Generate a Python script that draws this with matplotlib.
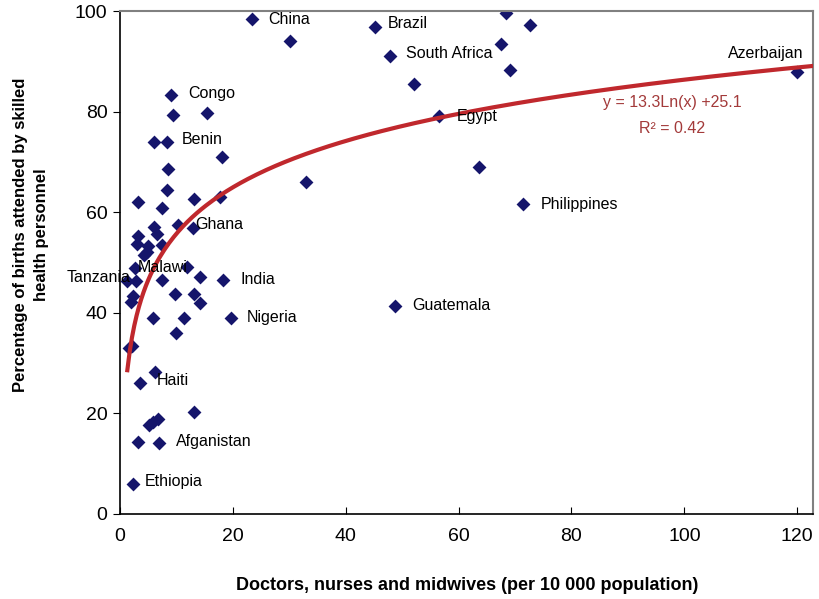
# Skilled birth attendance vs. health workforce density, with log trendline

import numpy as np
import matplotlib.pyplot as plt

plt.rcParams['font.family'] = ['Liberation Sans', 'DejaVu Sans']

# health workers per 10 000 population
workers = [23.4, 30.1, 45.2, 47.9, 52.1, 68.4, 72.7, 67.6, 69.1, 56.6,
           120.0, 71.5, 63.7, 48.8, 33.0, 18.3, 19.6, 9.0, 9.4, 15.4,
           6.0, 8.3, 18.1, 8.5, 8.3, 3.2, 13.1, 17.8, 7.5, 10.3,
           13.0, 6.0, 6.6, 3.2, 3.0, 4.9, 7.5, 4.8, 4.2, 2.6,
           11.8, 1.2, 2.8, 7.5, 14.1, 2.3, 1.9, 9.8, 13.1, 14.1,
           5.9, 11.3, 9.9, 2.1, 1.6, 6.2, 3.5, 13.1, 5.1, 5.9,
           6.7, 3.2, 6.9, 2.3]
# births attended by skilled personnel (%)
births = [98.4, 94.0, 96.8, 91.1, 85.5, 99.6, 97.2, 93.4, 88.3, 79.1,
          87.9, 61.6, 69.0, 41.4, 66.0, 46.6, 39.0, 83.3, 79.3, 79.7,
          74.0, 74.0, 71.0, 68.6, 64.5, 62.0, 62.7, 63.0, 60.8, 57.4,
          56.9, 57.0, 55.7, 55.3, 53.7, 53.3, 53.5, 52.1, 51.5, 49.0,
          49.2, 46.4, 46.3, 46.6, 47.1, 43.3, 42.2, 43.7, 43.7, 41.9,
          39.0, 39.0, 35.9, 33.4, 33.0, 28.2, 26.0, 20.3, 17.7, 18.3,
          18.9, 14.3, 14.1, 6.0]
names = ['China', '', 'Brazil', 'South Africa', '', '', '', '', '', 'Egypt',
         'Azerbaijan', 'Philippines', '', 'Guatemala', '', 'India', 'Nigeria', 'Congo', '', '',
         '', 'Benin', '', '', '', '', '', '', '', '',
         'Ghana', '', '', '', '', '', '', '', '', 'Malawi',
         '', 'Tanzania', '', '', '', '', '', '', '', '',
         '', '', '', '', '', 'Haiti', '', '', '', '',
         '', '', 'Afganistan', 'Ethiopia']

# trendline coefficients as printed on the chart
fit_a, fit_b = 13.3, 25.1

# label placement in pixels relative to the marker
offsets = {
    'China': (16, 0), 'Brazil': (13, 4), 'South Africa': (16, 2),
    'Egypt': (17, 0), 'Philippines': (17, 0), 'Guatemala': (17, 0),
    'India': (17, 0), 'Nigeria': (16, 0), 'Congo': (17, 2),
    'Benin': (15, 2), 'Ghana': (2, 3), 'Haiti': (2, -8),
    'Afganistan': (17, 2), 'Ethiopia': (12, 2), 'Malawi': (3, 0),
    'Tanzania': (4, 3), 'Azerbaijan': (6, 18),
}
right_aligned = ['Tanzania', 'Azerbaijan']

fig = plt.figure(figsize=(8.2, 5.99), dpi=100)
ax = fig.add_axes([120/820, 1-514/599, (813-120)/820, (514-11)/599])

x = np.linspace(1.3, 124, 300)
ax.plot(x, fit_a*np.log(x) + fit_b, color='#C0282D', lw=3, zorder=3)
ax.scatter(workers, births, marker='D', s=50, color='#15156B', zorder=2,
           linewidths=0)

for xi, yi, name in zip(workers, births, names):
    if not name:
        continue
    dx, dy = offsets[name]
    ax.annotate(name, (xi, yi), xytext=(dx, dy), textcoords='offset pixels',
                ha='right' if name in right_aligned else 'left', va='center',
                fontsize=11.5, color='black', zorder=4, annotation_clip=False)

ax.text(97.9, 81.9, f'y = {fit_a}Ln(x) +{fit_b}', ha='center', va='center',
        fontsize=11.5, color='#A33A3A')
ax.text(97.9, 76.7, 'R² = 0.42', ha='center', va='center',
        fontsize=11.5, color='#A33A3A')

ax.set_xlim(0, 122.8)
ax.set_ylim(0, 100)
ax.set_xticks(range(0, 121, 20))
ax.set_yticks(range(0, 101, 20))
ax.tick_params(axis='y', direction='out', length=5, labelsize=14, pad=4)
ax.tick_params(axis='x', direction='in', length=5, labelsize=14, pad=10)
for side in ['top', 'right']:
    ax.spines[side].set_color('#808080')
    ax.spines[side].set_linewidth(1.5)
for side in ['left', 'bottom']:
    ax.spines[side].set_linewidth(1.2)

fig.text(467/820, 1-585/599,
         'Doctors, nurses and midwives (per 10 000 population)',
         ha='center', va='center', fontsize=13, fontweight='bold')
fig.text(31/820, 1-235/599,
         'Percentage of births attended by skilled\nhealth personnel',
         ha='center', va='center', rotation=90, fontsize=12,
         fontweight='bold', multialignment='center', linespacing=1.45)

fig.savefig('out.png', dpi=100)
